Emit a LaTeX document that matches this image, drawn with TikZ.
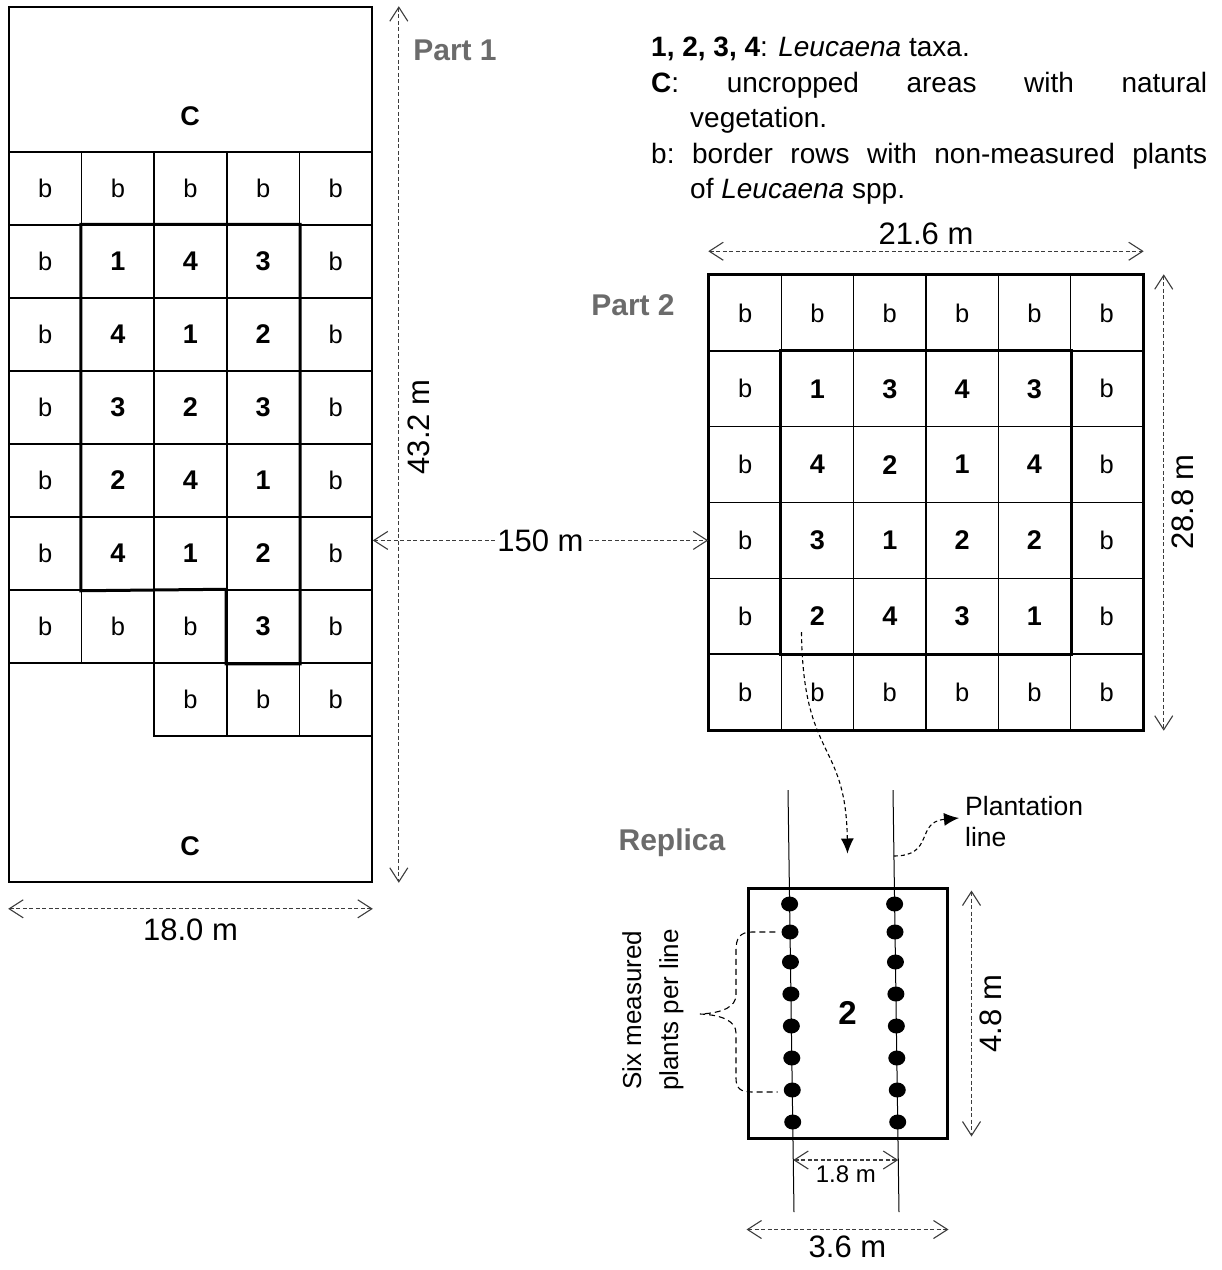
\documentclass[tikz,border=0pt]{standalone}
\usepackage{fontspec}
\setmainfont{Liberation Sans}
\usetikzlibrary{arrows.meta, positioning, calc, shapes.geometric}
\definecolor{partgray}{HTML}{6B6B6B}
\definecolor{dimgray}{HTML}{3C3C3C}
\newcommand{\tx}[1]{{\fontsize{27}{27}\selectfont\bfseries #1}}

\begin{document}
\begin{tikzpicture}[
        x=1pt, y=-1pt,
        cell/.style={draw, line width=1.5pt, inner sep=0pt, font=\fontsize{25.5}{26}\selectfont},
        cellone/.style={cell, minimum width=72.6pt, minimum height=73pt},
        celltwo/.style={cell, minimum width=72.33pt, minimum height=75.83pt},
        outline/.style={line width=3pt},
        dim/.style={dimgray, line width=1.1pt, dash pattern=on 4pt off 2.5pt,
            {Straight Barb[length=14pt, width=18pt, line width=1.1pt]}-{Straight Barb[length=14pt, width=18pt, line width=1.1pt]}},
        dimlabel/.style={text=black, font=\fontsize{31}{31}\selectfont, inner sep=6pt},
        partlabel/.style={text=partgray, font=\fontsize{30}{30}\selectfont\bfseries},
        pointer/.style={line width=1.1pt, dash pattern=on 4pt off 3pt, -{Latex[length=15pt, width=13pt]}},
        plant/.style={ellipse, fill=black, minimum width=17pt, minimum height=15pt, inner sep=0pt}
    ]
    \useasboundingbox (0,0) rectangle (1222,1270);

    % Part 1
    \node[draw, line width=1.6pt, minimum width=363pt, minimum height=875pt, inner sep=0pt] (plot1) at (190.5,444.5) {};
    \node[font=\fontsize{27}{27}\selectfont\bfseries] (c1top) at (190,116) {C};
    \node[font=\fontsize{27}{27}\selectfont\bfseries] (c1bot) at (190,846) {C};
    \foreach \vals [count=\r] in {{b,b,b,b,b},{b,\tx1,\tx4,\tx3,b},{b,\tx4,\tx1,\tx2,b},{b,\tx3,\tx2,\tx3,b},{b,\tx2,\tx4,\tx1,b},{b,\tx4,\tx1,\tx2,b},{b,b,b,\tx3,b}}
        \foreach \v [count=\c] in \vals
            \node[cellone] (p1-\r-\c) at ({9+72.6*(\c-0.5)},{152+73*(\r-0.5)}) {\v};
    \foreach \c in {3,4,5}
        \node[cellone] (p1-8-\c) at ({9+72.6*(\c-0.5)},{152+73*7.5}) {b};
    \draw[outline] (p1-2-2.north west) -- (p1-2-4.north east) -- (p1-7-4.south east) -- (p1-7-4.south west)
        -- (p1-7-4.north west) -- (p1-6-2.south west) -- cycle;
    \node[partlabel] (part1) at (455,50) {Part 1};

    % Part 2
    \foreach \vals [count=\r] in {{b,b,b,b,b,b},{b,\tx1,\tx3,\tx4,\tx3,b},{b,\tx4,\tx2,\tx1,\tx4,b},{b,\tx3,\tx1,\tx2,\tx2,b},{b,\tx2,\tx4,\tx3,\tx1,b},{b,b,b,b,b,b}}
        \foreach \v [count=\c] in \vals
            \node[celltwo] (p2-\r-\c) at ({709+72.33*(\c-0.5)},{275+75.83*(\r-0.5)}) {\v};
    \draw[line width=2.2pt] (p2-1-1.north west) rectangle (p2-6-6.south east);
    \draw[outline] (p2-2-2.north west) rectangle (p2-5-5.south east);
    \node[partlabel] (part2) at (633,305) {Part 2};

    % dimensions
    \draw[dim] ($(plot1.north east)+(26,0)$) -- ($(plot1.south east)+(26,0)$)
        node[pos=0.48, rotate=90, anchor=north, dimlabel, inner sep=9pt] (len1) {43.2 m};
    \draw[dim] ($(plot1.south west)+(0,26)$) -- ($(plot1.south east)+(0,26)$)
        node[midway, below, dimlabel, inner sep=9pt] (wid1) {18.0 m};
    \draw[dim] (p2-4-1.west -| plot1.east) -- (p2-4-1.west)
        node[midway, fill=white, dimlabel, inner sep=2pt] (dist) {150 m};
    \draw[dim] ($(p2-1-1.north west)+(0,-23)$) -- ($(p2-1-6.north east)+(0,-23)$)
        node[midway, above, dimlabel] (wid2) {21.6 m};
    \draw[dim] ($(p2-1-6.north east)+(20,0)$) -- ($(p2-6-6.south east)+(20,0)$)
        node[midway, rotate=90, anchor=north, dimlabel, inner sep=8pt] (len2) {28.8 m};

    % legend
    \node[anchor=north west, text width=556pt, align=justify, inner sep=0pt, font=\fontsize{28}{35.5}\selectfont] (legend) at (651,37) {%
        \hangindent=39pt\hangafter=1 \textbf{1, 2, 3, 4}: \textit{Leucaena} taxa.\par
        \hangindent=39pt\hangafter=1 \textbf{C}:\ uncropped areas with natural\linebreak vegetation.\par
        \hangindent=39pt\hangafter=1 b:\ border rows with non-measured plants\linebreak of \textit{Leucaena} spp.\par};

    % Replica
    \node[draw, line width=3pt, minimum width=199pt, minimum height=250pt, inner sep=0pt, font=\fontsize{33}{33}\selectfont\bfseries] (replica) at (847.5,1013) {2};
    \node[partlabel] (replabel) at (672,843) {Replica};
    \coordinate (lineL-top) at (788,790);
    \coordinate (lineL-bot) at (794,1212);
    \coordinate (lineR-top) at (893,790);
    \coordinate (lineR-bot) at (899,1212);
    \draw[line width=1pt] (lineL-top) -- (lineL-bot);
    \draw[line width=1pt] (lineR-top) -- (lineR-bot);
    \foreach \yy [count=\i] in {904,932,962,994,1026,1058,1090,1122} {
        \node[plant] (plantL-\i) at ($(lineL-top)!{(\yy-790)/422}!(lineL-bot)$) {};
        \node[plant] (plantR-\i) at ($(lineR-top)!{(\yy-790)/422}!(lineR-bot)$) {};
    }
    % dashed brace round the six measured plants
    \draw[line width=1.1pt, dash pattern=on 6pt off 4pt]
        ($(plantL-2.west)+(-6,0)$) -- (752,932) .. controls (740,932) and (736,938) .. (736,950)
        -- (736,995) .. controls (736,1006) and (724,1013) .. (700,1014)
        .. controls (724,1015) and (736,1022) .. (736,1033)
        -- (736,1078) .. controls (736,1088) and (740,1092) .. (752,1092) -- ($(plantL-7.west)+(-6,2)$);
    \node[rotate=90, align=center, font=\fontsize{26}{37}\selectfont] (sixlbl) at (653,1010) {Six measured\\plants per line};

    \node[anchor=north west, align=left, inner sep=0pt, font=\fontsize{26.5}{31}\selectfont] (plantlbl) at (965,796) {Plantation\\line};
    \coordinate (plantstart) at ($(lineR-top)!{66/422}!(lineR-bot)$);
    \coordinate (plantend) at ($(plantlbl.north west)+(-6,22)$);
    \draw[pointer] (plantstart) .. controls (935,856) and (915,822) .. (plantend);
    \draw[pointer] ($(p2-5-2.center)+(-16,16)$) .. controls (803,760) and (846,740) .. ($(replica.north)+(0,-33)$);

    \draw[dim] ($(replica.north east)+(23,4)$) -- ($(replica.south east)+(23,-3)$)
        node[midway, rotate=90, anchor=north, dimlabel, inner sep=8pt] (len3) {4.8 m};
    \coordinate (gapL) at ($(lineL-top)!{370/422}!(lineL-bot)$);
    \coordinate (gapR) at ($(lineR-top)!{370/422}!(lineR-bot)$);
    \draw[dim] (gapL) -- (gapR)
        node[midway, below, text=black, font=\fontsize{24}{24}\selectfont, inner sep=5pt] (gap) {1.8 m};
    \draw[dim] ($(replica.south west)+(0,90)$) -- ($(replica.south east)+(0,90)$)
        node[midway, below, dimlabel] (wid3) {3.6 m};
\end{tikzpicture}
\end{document}
